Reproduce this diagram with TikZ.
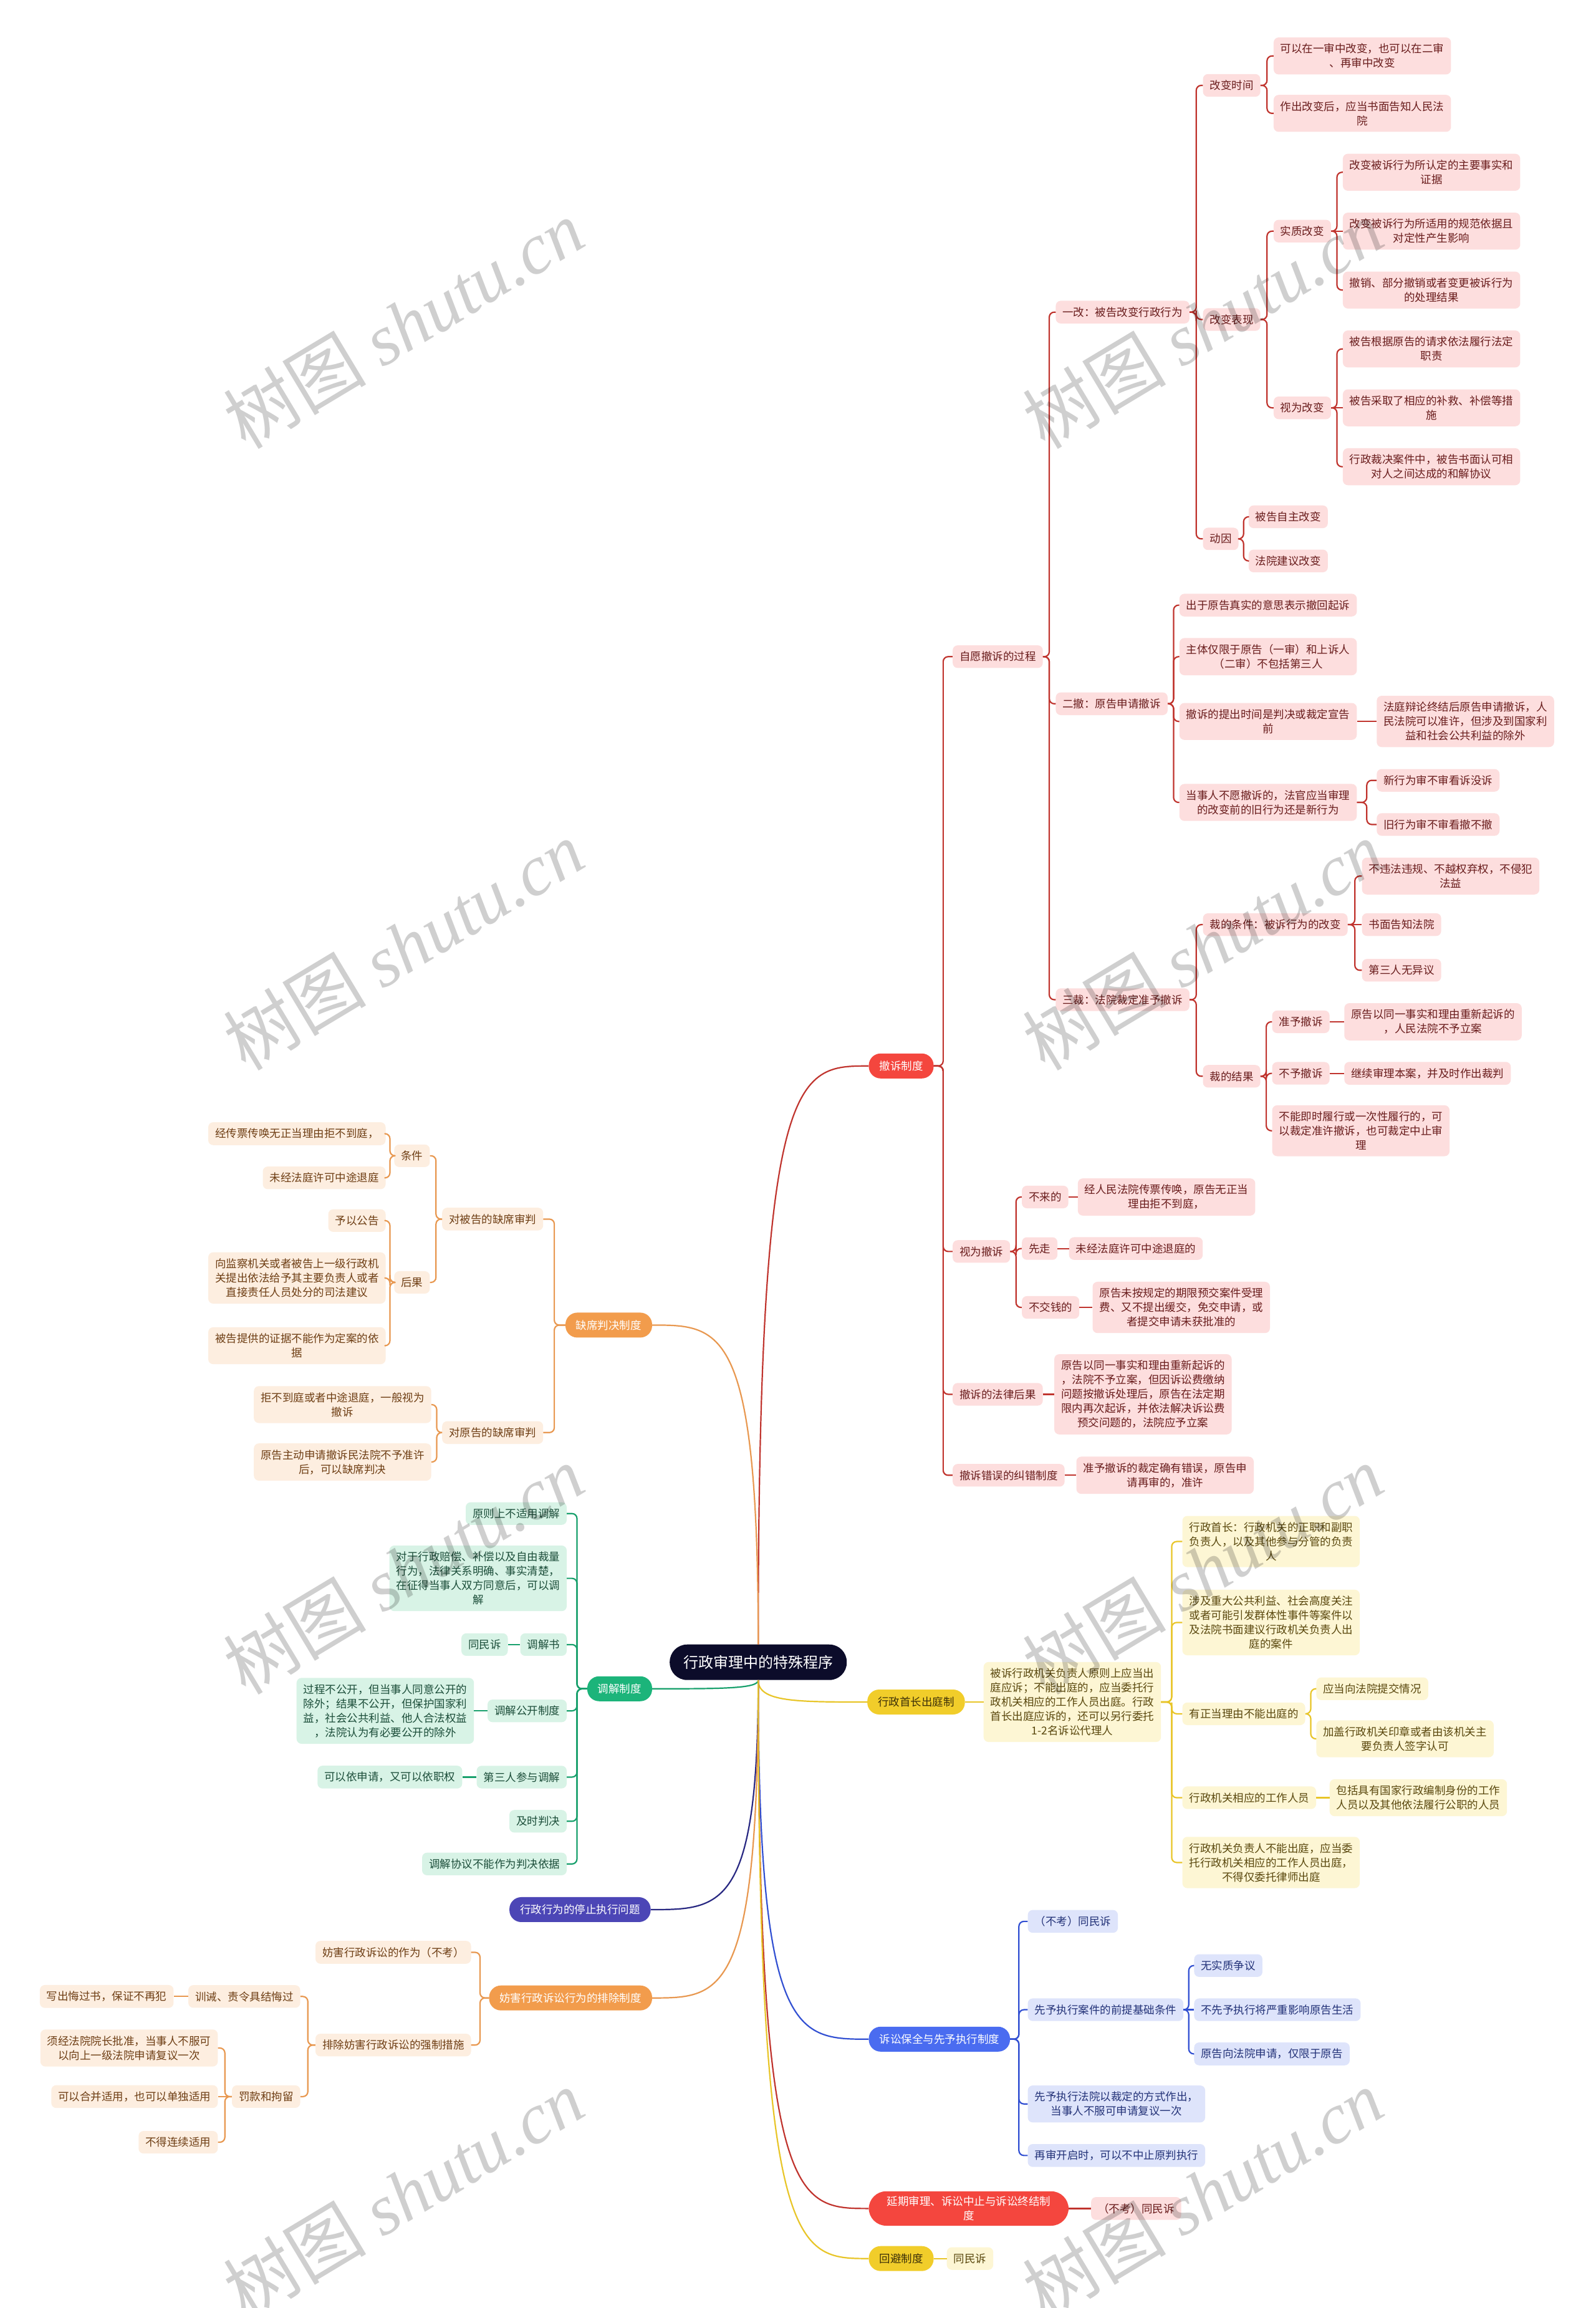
\documentclass[tikz,border=0pt]{standalone}
\usepackage{fontspec}
\setmainfont{Noto Sans CJK SC}
\newfontfamily\wmser{Liberation Serif}
\usetikzlibrary{calc}
\definecolor{rline}{RGB}{192,52,46}
\definecolor{rfill}{RGB}{253,222,222}
\definecolor{rtext}{RGB}{105,28,28}
\definecolor{rmain}{RGB}{244,70,62}
\definecolor{yline}{RGB}{232,197,40}
\definecolor{yfill}{RGB}{253,246,212}
\definecolor{ytext}{RGB}{90,72,14}
\definecolor{ymain}{RGB}{241,205,42}
\definecolor{ytitle}{RGB}{60,48,8}
\definecolor{bline}{RGB}{50,80,210}
\definecolor{bfill}{RGB}{222,228,251}
\definecolor{btext}{RGB}{35,50,120}
\definecolor{bmain}{RGB}{74,108,240}
\definecolor{oline}{RGB}{232,152,80}
\definecolor{ofill}{RGB}{253,238,224}
\definecolor{otext}{RGB}{110,62,20}
\definecolor{omain}{RGB}{242,156,76}
\definecolor{gline}{RGB}{24,160,108}
\definecolor{gfill}{RGB}{216,243,230}
\definecolor{gtext}{RGB}{28,78,58}
\definecolor{gmain}{RGB}{28,180,122}
\definecolor{iline}{RGB}{40,40,130}
\definecolor{imain}{RGB}{76,70,182}
\definecolor{rootc}{RGB}{12,12,42}
\newcommand\lnk[3]{\draw[#1] (#2.east) -| ($(#2.east)!.5!(#3.west)$) |- (#3.west);}
\newcommand\lnkl[3]{\draw[#1] (#2.west) -| ($(#2.west)!.5!(#3.east)$) |- (#3.east);}
\newcommand\sln[3]{\draw[#1] (#2.east) -- (#3.west);}
\newcommand\slnl[3]{\draw[#1] (#2.west) -- (#3.east);}
\newcommand\rlink[4]{\draw[#1] (root.#2) .. controls (root.#2 |- #3.#4) and ($(root.#2 |- #3.#4)!0.35!(#3.#4)$) .. (#3.#4);}
\tikzset{
 sn/.style={font=\fontsize{17.5}{23}\selectfont, align=center, rounded corners=8pt, inner xsep=11pt, inner ysep=10pt},
 rn/.style={sn, fill=rfill, text=rtext},
 yn/.style={sn, fill=yfill, text=ytext},
 bn/.style={sn, fill=bfill, text=btext},
 on/.style={sn, fill=ofill, text=otext},
 gn/.style={sn, fill=gfill, text=gtext},
 mainn/.style={font=\fontsize{17.5}{23}\selectfont, align=center, rounded corners=19pt, minimum height=40pt, inner xsep=17pt},
 lnbase/.style={line width=2.2pt, rounded corners=8pt, line join=round},
 rl/.style={lnbase, draw=rline},
 yl/.style={lnbase, draw=yline},
 bl/.style={lnbase, draw=bline},
 ol/.style={lnbase, draw=oline},
 gl/.style={lnbase, draw=gline},
 il/.style={lnbase, draw=iline},
 wmk/.style={rotate=31, text=black, text opacity=0.19, font=\fontsize{115}{115}\selectfont}
}
\begin{document}
\begin{tikzpicture}[x=2.3616pt, y=-2.3616pt]
\fill[white] (0,0) rectangle (1084,1567.6);
\useasboundingbox (0,0) rectangle (1084,1567.6);

% root
\node[font=\fontsize{24}{28}\selectfont, fill=rootc, text=white, rounded corners=28pt, minimum height=57pt, inner xsep=22pt] (root) at (515,1129) {行政审理中的特殊程序};

% main nodes
\node[mainn, fill=rmain, text=white, anchor=west] (m1) at (590,724) {撤诉制度};
\node[mainn, fill=ymain, text=ytitle, anchor=west] (y) at (589,1156) {行政首长出庭制};
\node[mainn, fill=bmain, text=white, anchor=west] (bb) at (590,1385) {诉讼保全与先予执行制度};
\node[mainn, fill=rmain, text=white, anchor=west, rounded corners=28pt, inner xsep=29pt, inner ysep=8pt] (m4) at (590,1500) {延期审理、诉讼中止与诉讼终结制\\度};
\node[mainn, fill=ymain, text=ytitle, anchor=west] (m5) at (590,1534) {回避制度};
\node[mainn, fill=omain, text=white, anchor=east] (q) at (443,900) {缺席判决制度};
\node[mainn, fill=gmain, text=white, anchor=east] (g) at (443,1147) {调解制度};
\node[mainn, fill=imain, text=white, anchor=east] (h) at (442,1297) {行政行为的停止执行问题};
\node[mainn, fill=omain, text=white, anchor=east] (f) at (443,1357) {妨害行政诉讼行为的排除制度};

% root links
\rlink{rl}{north}{m1}{west}
\rlink{ol}{north}{q}{east}
\rlink{yl}{south}{y}{west}
\rlink{gl}{south}{g}{east}
\rlink{il}{south}{h}{east}
\rlink{ol}{south}{f}{east}
\rlink{bl}{south}{bb}{west}
\rlink{rl}{south}{m4}{west}
\rlink{yl}{south}{m5}{west}

% ===== red branch
\node[rn,anchor=west] (a) at (647,446) {自愿撤诉的过程};
\node[rn,anchor=west] (b) at (647,850) {视为撤诉};
\node[rn,anchor=west] (c) at (647,947) {撤诉的法律后果};
\node[rn,anchor=west] (d) at (647,1002) {撤诉错误的纠错制度};
\node[rn,anchor=west] (a1) at (717,212) {一改：被告改变行政行为};
\node[rn,anchor=west] (a2) at (717,478) {二撤：原告申请撤诉};
\node[rn,anchor=west] (a3) at (717,679) {三裁：法院裁定准予撤诉};
\node[rn,anchor=west] (a11) at (817,58) {改变时间};
\node[rn,anchor=west] (a12) at (817,217) {改变表现};
\node[rn,anchor=west] (a13) at (817,366) {动因};
\node[rn,anchor=west] (a111) at (865,38) {可以在一审中改变，也可以在二审\\、再审中改变};
\node[rn,anchor=west] (a112) at (865,77) {作出改变后，应当书面告知人民法\\院};
\node[rn,anchor=west] (a121) at (865,157) {实质改变};
\node[rn,anchor=west] (a122) at (865,277) {视为改变};
\node[rn,anchor=west] (x1) at (912,117) {改变被诉行为所认定的主要事实和\\证据};
\node[rn,anchor=west] (x2) at (912,157) {改变被诉行为所适用的规范依据且\\对定性产生影响};
\node[rn,anchor=west] (x3) at (912,197) {撤销、部分撤销或者变更被诉行为\\的处理结果};
\node[rn,anchor=west] (v1) at (912,237) {被告根据原告的请求依法履行法定\\职责};
\node[rn,anchor=west] (v2) at (912,277) {被告采取了相应的补救、补偿等措\\施};
\node[rn,anchor=west] (v3) at (912,317) {行政裁决案件中，被告书面认可相\\对人之间达成的和解协议};
\node[rn,anchor=west] (d1) at (848,351) {被告自主改变};
\node[rn,anchor=west] (d2) at (848,381) {法院建议改变};
\node[rn,anchor=west] (s1) at (801,411) {出于原告真实的意思表示撤回起诉};
\node[rn,anchor=west] (s2) at (801,446) {主体仅限于原告（一审）和上诉人\\（二审）不包括第三人};
\node[rn,anchor=west] (s3) at (801,490) {撤诉的提出时间是判决或裁定宣告\\前};
\node[rn,anchor=west] (s4) at (801,545) {当事人不愿撤诉的，法官应当审理\\的改变前的旧行为还是新行为};
\node[rn,anchor=west] (s31) at (935,490) {法庭辩论终结后原告申请撤诉，人\\民法院可以准许，但涉及到国家利\\益和社会公共利益的除外};
\node[rn,anchor=west] (s41) at (935,530) {新行为审不审看诉没诉};
\node[rn,anchor=west] (s42) at (935,560) {旧行为审不审看撤不撤};
\node[rn,anchor=west] (c1) at (817,628) {裁的条件：被诉行为的改变};
\node[rn,anchor=west] (c2) at (817,731) {裁的结果};
\node[rn,anchor=west] (c11) at (925,595) {不违法违规、不越权弃权，不侵犯\\法益};
\node[rn,anchor=west] (c12) at (925,628) {书面告知法院};
\node[rn,anchor=west] (c13) at (925,659) {第三人无异议};
\node[rn,anchor=west] (c21) at (864,694) {准予撤诉};
\node[rn,anchor=west] (c22) at (864,729) {不予撤诉};
\node[rn,anchor=west] (c23) at (864,768) {不能即时履行或一次性履行的，可\\以裁定准许撤诉，也可裁定中止审\\理};
\node[rn,anchor=west] (c211) at (913,694) {原告以同一事实和理由重新起诉的\\，人民法院不予立案};
\node[rn,anchor=west] (c221) at (913,729) {继续审理本案，并及时作出裁判};
\node[rn,anchor=west] (b1) at (694,813) {不来的};
\node[rn,anchor=west] (b2) at (694,848) {先走};
\node[rn,anchor=west] (b3) at (694,888) {不交钱的};
\node[rn,anchor=west] (b11) at (732,813) {经人民法院传票传唤，原告无正当\\理由拒不到庭，};
\node[rn,anchor=west] (b21) at (726,848) {未经法庭许可中途退庭的};
\node[rn,anchor=west] (b31) at (742,888) {原告未按规定的期限预交案件受理\\费、又不提出缓交，免交申请，或\\者提交申请未获批准的};
\node[rn,anchor=west] (c01) at (716,947) {原告以同一事实和理由重新起诉的\\，法院不予立案，但因诉讼费缴纳\\问题按撤诉处理后，原告在法定期\\限内再次起诉，并依法解决诉讼费\\预交问题的，法院应予立案};
\node[rn,anchor=west] (d01) at (731,1002) {准予撤诉的裁定确有错误，原告申\\请再审的，准许};
\node[rn,anchor=west] (m41) at (741,1500) {（不考）同民诉};

\lnk{rl}{m1}{a}\lnk{rl}{m1}{b}\lnk{rl}{m1}{c}\lnk{rl}{m1}{d}
\lnk{rl}{a}{a1}\lnk{rl}{a}{a2}\lnk{rl}{a}{a3}
\lnk{rl}{a1}{a11}\lnk{rl}{a1}{a12}\lnk{rl}{a1}{a13}
\lnk{rl}{a11}{a111}\lnk{rl}{a11}{a112}
\lnk{rl}{a12}{a121}\lnk{rl}{a12}{a122}
\lnk{rl}{a121}{x1}\sln{rl}{a121}{x2}\lnk{rl}{a121}{x3}
\lnk{rl}{a122}{v1}\sln{rl}{a122}{v2}\lnk{rl}{a122}{v3}
\lnk{rl}{a13}{d1}\lnk{rl}{a13}{d2}
\lnk{rl}{a2}{s1}\lnk{rl}{a2}{s2}\lnk{rl}{a2}{s3}\lnk{rl}{a2}{s4}
\sln{rl}{s3}{s31}
\lnk{rl}{s4}{s41}\lnk{rl}{s4}{s42}
\lnk{rl}{a3}{c1}\lnk{rl}{a3}{c2}
\lnk{rl}{c1}{c11}\sln{rl}{c1}{c12}\lnk{rl}{c1}{c13}
\lnk{rl}{c2}{c21}\lnk{rl}{c2}{c22}\lnk{rl}{c2}{c23}
\sln{rl}{c21}{c211}\sln{rl}{c22}{c221}
\lnk{rl}{b}{b1}\lnk{rl}{b}{b2}\lnk{rl}{b}{b3}
\sln{rl}{b1}{b11}\sln{rl}{b2}{b21}\sln{rl}{b3}{b31}
\sln{rl}{c}{c01}\sln{rl}{d}{d01}
\sln{rl}{m4}{m41}

% ===== yellow branch
\node[yn,anchor=west] (y1) at (668,1156) {被诉行政机关负责人原则上应当出\\庭应诉；不能出庭的，应当委托行\\政机关相应的工作人员出庭。行政\\首长出庭应诉的，还可以另行委托\\1-2名诉讼代理人};
\node[yn,anchor=west] (y11) at (803,1047) {行政首长：行政机关的正职和副职\\负责人，以及其他参与分管的负责\\人};
\node[yn,anchor=west] (y12) at (803,1102) {涉及重大公共利益、社会高度关注\\或者可能引发群体性事件等案件以\\及法院书面建议行政机关负责人出\\庭的案件};
\node[yn,anchor=west] (y13) at (803,1164) {有正当理由不能出庭的};
\node[yn,anchor=west] (y14) at (803,1221) {行政机关相应的工作人员};
\node[yn,anchor=west] (y15) at (803,1265) {行政机关负责人不能出庭，应当委\\托行政机关相应的工作人员出庭，\\不得仅委托律师出庭};
\node[yn,anchor=west] (y131) at (894,1147) {应当向法院提交情况};
\node[yn,anchor=west] (y132) at (894,1181) {加盖行政机关印章或者由该机关主\\要负责人签字认可};
\node[yn,anchor=west] (y141) at (903,1221) {包括具有国家行政编制身份的工作\\人员以及其他依法履行公职的人员};
\node[yn,anchor=west] (m51) at (643,1534) {同民诉};
\sln{yl}{y}{y1}
\lnk{yl}{y1}{y11}\lnk{yl}{y1}{y12}\lnk{yl}{y1}{y13}\lnk{yl}{y1}{y14}\lnk{yl}{y1}{y15}
\lnk{yl}{y13}{y131}\lnk{yl}{y13}{y132}
\sln{yl}{y14}{y141}
\sln{yl}{m5}{m51}

% ===== blue branch
\node[bn,anchor=west] (bl1) at (698,1305) {（不考）同民诉};
\node[bn,anchor=west] (bl2) at (698,1365) {先予执行案件的前提基础条件};
\node[bn,anchor=west] (bl3) at (698,1429) {先予执行法院以裁定的方式作出，\\当事人不服可申请复议一次};
\node[bn,anchor=west] (bl4) at (698,1464) {再审开启时，可以不中止原判执行};
\node[bn,anchor=west] (bl21) at (811,1335) {无实质争议};
\node[bn,anchor=west] (bl22) at (811,1365) {不先予执行将严重影响原告生活};
\node[bn,anchor=west] (bl23) at (811,1395) {原告向法院申请，仅限于原告};
\lnk{bl}{bb}{bl1}\lnk{bl}{bb}{bl2}\lnk{bl}{bb}{bl3}\lnk{bl}{bb}{bl4}
\lnk{bl}{bl2}{bl21}\sln{bl}{bl2}{bl22}\lnk{bl}{bl2}{bl23}

% ===== orange (absence judgment)
\node[on,anchor=east] (q1) at (369,828) {对被告的缺席审判};
\node[on,anchor=east] (q2) at (369,973) {对原告的缺席审判};
\node[on,anchor=east] (q11) at (292,785) {条件};
\node[on,anchor=east] (q12) at (292,871) {后果};
\node[on,anchor=east] (q111) at (262,770) {经传票传唤无正当理由拒不到庭，};
\node[on,anchor=east] (q112) at (262,800) {未经法庭许可中途退庭};
\node[on,anchor=east] (q121) at (262,829) {予以公告};
\node[on,anchor=east] (q122) at (262,868) {向监察机关或者被告上一级行政机\\关提出依法给予其主要负责人或者\\直接责任人员处分的司法建议};
\node[on,anchor=east] (q123) at (262,914) {被告提供的证据不能作为定案的依\\据};
\node[on,anchor=east] (q21) at (293,954) {拒不到庭或者中途退庭，一般视为\\撤诉};
\node[on,anchor=east] (q22) at (293,993) {原告主动申请撤诉民法院不予准许\\后，可以缺席判决};
\lnkl{ol}{q}{q1}\lnkl{ol}{q}{q2}
\lnkl{ol}{q1}{q11}\lnkl{ol}{q1}{q12}
\lnkl{ol}{q11}{q111}\lnkl{ol}{q11}{q112}
\lnkl{ol}{q12}{q121}\lnkl{ol}{q12}{q122}\lnkl{ol}{q12}{q123}
\lnkl{ol}{q2}{q21}\lnkl{ol}{q2}{q22}

% ===== green
\node[gn,anchor=east] (g1) at (385,1028) {原则上不适用调解};
\node[gn,anchor=east] (g2) at (385,1072) {对于行政赔偿、补偿以及自由裁量\\行为，法律关系明确、事实清楚，\\在征得当事人双方同意后，可以调\\解};
\node[gn,anchor=east] (g3) at (385,1117) {调解书};
\node[gn,anchor=east] (g4) at (385,1162) {调解公开制度};
\node[gn,anchor=east] (g5) at (385,1207) {第三人参与调解};
\node[gn,anchor=east] (g6) at (385,1237) {及时判决};
\node[gn,anchor=east] (g7) at (385,1266) {调解协议不能作为判决依据};
\node[gn,anchor=east] (g31) at (345,1117) {同民诉};
\node[gn,anchor=east] (g41) at (322,1162) {过程不公开，但当事人同意公开的\\除外；结果不公开，但保护国家利\\益，社会公共利益、他人合法权益\\，法院认为有必要公开的除外};
\node[gn,anchor=east] (g51) at (314,1207) {可以依申请，又可以依职权};
\lnkl{gl}{g}{g1}\lnkl{gl}{g}{g2}\lnkl{gl}{g}{g3}\lnkl{gl}{g}{g4}\lnkl{gl}{g}{g5}\lnkl{gl}{g}{g6}\lnkl{gl}{g}{g7}
\slnl{gl}{g3}{g31}\slnl{gl}{g4}{g41}\slnl{gl}{g5}{g51}

% ===== orange (obstruction)
\node[on,anchor=east] (f1) at (320,1326) {妨害行政诉讼的作为（不考）};
\node[on,anchor=east] (f2) at (320,1389) {排除妨害行政诉讼的强制措施};
\node[on,anchor=east] (f21) at (204,1356) {训诫、责令具结悔过};
\node[on,anchor=east] (f22) at (204,1424) {罚款和拘留};
\node[on,anchor=east] (f211) at (118,1356) {写出悔过书，保证不再犯};
\node[on,anchor=east] (f221) at (148,1391) {须经法院院长批准，当事人不服可\\以向上一级法院申请复议一次};
\node[on,anchor=east] (f222) at (148,1424) {可以合并适用，也可以单独适用};
\node[on,anchor=east] (f223) at (148,1455) {不得连续适用};
\lnkl{ol}{f}{f1}\lnkl{ol}{f}{f2}
\lnkl{ol}{f2}{f21}\lnkl{ol}{f2}{f22}
\slnl{ol}{f21}{f211}
\lnkl{ol}{f22}{f221}\slnl{ol}{f22}{f222}\lnkl{ol}{f22}{f223}

% ===== watermarks
\foreach \p [count=\i] in {(274,220),(817,220),(274,642),(817,642),(274,1066),(817,1066),(274,1490),(817,1490)}
  \node[wmk] (wm\i) at \p {树图 {\wmser\itshape shutu.cn}};
\end{tikzpicture}
\end{document}
